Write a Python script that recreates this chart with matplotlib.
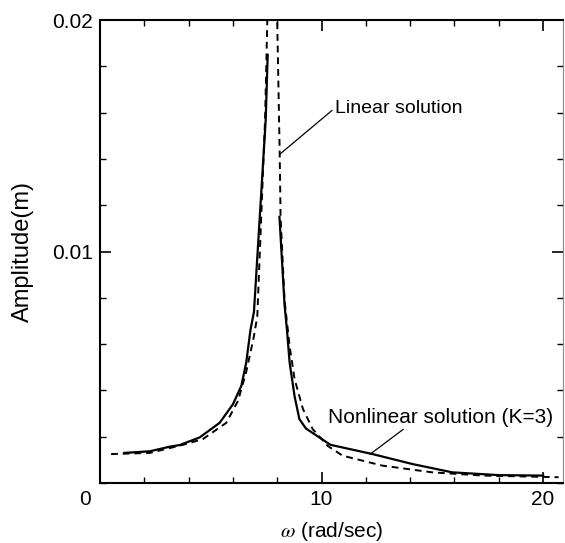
import matplotlib.pyplot as plt
from matplotlib.ticker import MultipleLocator

# linear solution (dashed); goes off the top near resonance
w_linear = [0.5, 2.25, 3.75, 4.65, 5.7, 6.23, 6.6, 6.94, 7.1, 7.45, 7.55, 7.78,
            8.0, 8.11, 8.15, 8.33, 8.56, 8.78, 9.16, 9.6, 10.28, 10.95, 12.75, 15.0, 17.3, 20.7]
a_linear = [0.00125, 0.0013, 0.00165, 0.0019, 0.0026, 0.00355, 0.0048, 0.0063, 0.0072, 0.0157, 0.0199, 0.05,
            0.0199, 0.0143, 0.0115, 0.0079, 0.0059, 0.0045, 0.0032, 0.00233, 0.0016, 0.00118, 0.00075, 0.00046, 0.00032, 0.00025]

# nonlinear solution (K=3), solid, with a jump between the two branches
w_nl_up = [1.1, 2.25, 3.15, 3.6, 4.5, 5.4, 6.0, 6.38, 6.6, 6.79, 6.95, 7.48, 7.57]
a_nl_up = [0.0013, 0.00137, 0.00157, 0.00164, 0.00197, 0.0026, 0.0034, 0.0042, 0.0052, 0.0066, 0.0074, 0.0157, 0.0185]
w_nl_down = [8.1, 8.33, 8.44, 8.56, 8.78, 9.0, 9.3, 9.9, 10.4, 12.3, 14.1, 15.9, 18.0, 20.0]
a_nl_down = [0.0115, 0.0077, 0.0066, 0.0052, 0.00376, 0.00276, 0.00235, 0.00197, 0.00165, 0.00125, 0.00082, 0.00046, 0.00034, 0.00032]

plt.rcParams['font.family'] = ['Liberation Sans', 'DejaVu Sans']
plt.rcParams['mathtext.fontset'] = 'stix'

fig = plt.figure(figsize=(5.65, 5.43), dpi=100)
ax = fig.add_axes([0.177, 0.1105, 0.8195, 0.8525])

ax.plot(w_linear, a_linear, color='black', lw=1.4, ls=(0, (3.5, 2.5)))
ax.plot(w_nl_up, a_nl_up, color='black', lw=1.6)
ax.plot(w_nl_down, a_nl_down, color='black', lw=1.6)

ax.set_xlim(0, 20.9)
ax.set_ylim(0, 0.02)
ax.xaxis.set_major_locator(MultipleLocator(10))
ax.xaxis.set_minor_locator(MultipleLocator(2))
ax.yaxis.set_minor_locator(MultipleLocator(0.002))
ax.set_yticks([0.01, 0.02])
# the "0" on the x axis sits a little left of its tick in the original
ax.xaxis.set_major_formatter(plt.FuncFormatter(lambda v, p: "0     " if v == 0 else f"{v:g}"))
ax.yaxis.set_major_formatter(plt.FuncFormatter(lambda v, p: f"{v:g}"))
ax.tick_params(which='both', direction='in', top=True, right=True, labelsize=15, pad=5)
ax.tick_params(which='major', length=8, width=1.2)
ax.tick_params(which='minor', length=4, width=1)
for side in ['left', 'bottom', 'top']:
    ax.spines[side].set_linewidth(1.5)
ax.spines['right'].set_linewidth(0.8)
ax.spines['right'].set_color('#888888')

ax.set_ylabel('Amplitude(m)', fontsize=17, labelpad=13)
ax.set_xlabel(r'$\omega$ (rad/sec)', fontsize=15, labelpad=8)

ax.annotate('Linear solution', xy=(8.11, 0.0142), xytext=(10.6, 0.0162),
            fontsize=14, va='center', ha='left',
            arrowprops=dict(arrowstyle='-', color='black', lw=0.9, shrinkA=0, shrinkB=0,
                            relpos=(0, 0.5)))
ax.annotate('Nonlinear solution (K=3)', xy=(12.2, 0.00125), xytext=(10.3, 0.00285),
            fontsize=15, va='center', ha='left',
            arrowprops=dict(arrowstyle='-', color='black', lw=0.9, shrinkA=0, shrinkB=0,
                            relpos=(0.35, 0)))

fig.savefig('out.png', dpi=100)
